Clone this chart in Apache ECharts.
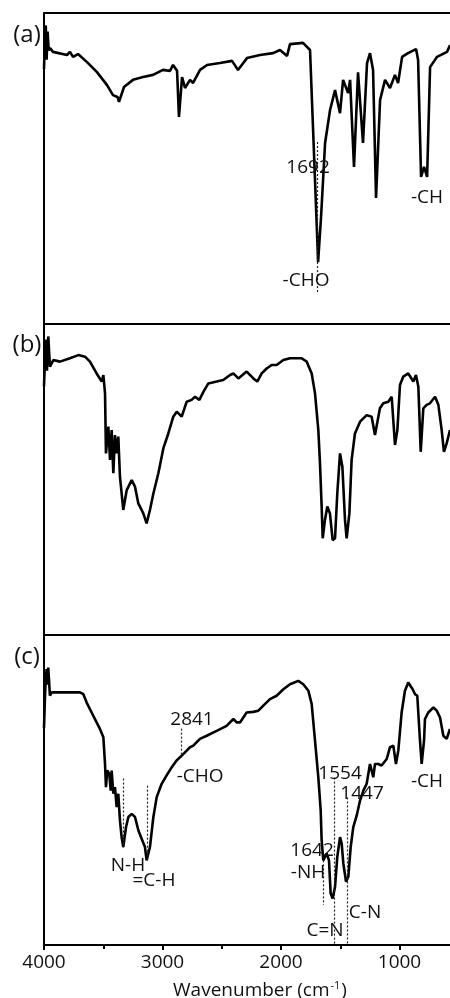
<!DOCTYPE html>
<html><head><meta charset="utf-8">
<script src="https://cdn.jsdelivr.net/npm/echarts@6/dist/echarts.min.js"></script>
<style>html,body{margin:0;padding:0;background:#fff}#c{width:450px;height:998px}</style>
</head><body><div id="c"></div>
<script>
// FTIR spectra: [wavenumber (cm-1), transmittance (%)]
var specA = [[4000,82],[3992,92],[3985,96],[3978,85],[3970,94],[3960,88],[3949,88.7],[3924,87.5],[3806,86.5],[3781,87.5],[3755,85.9],[3713,86.8],[3637,84.2],[3553,81.0],[3468,76.8],[3418,73.6],[3380,73.0],[3367,71.4],[3325,76.2],[3249,78.5],[3164,79.4],[3080,80.1],[2996,81.7],[2937,81.4],[2911,83.3],[2877,81.4],[2861,66.6],[2835,79.4],[2810,75.9],[2768,78.5],[2742,77.5],[2683,81.7],[2624,83.3],[2515,83.9],[2413,84.6],[2363,81.7],[2287,85.5],[2177,86.5],[2067,87.1],[2008,88.1],[1949,86.2],[1924,90.0],[1814,90.4],[1755,88.1],[1730,63.3],[1696,29.3],[1687,19.9],[1662,34.4],[1628,58.2],[1586,68.8],[1544,75.2],[1502,67.8],[1476,78.5],[1434,74.3],[1417,78.5],[1384,50.5],[1350,80.9],[1308,58.2],[1274,83.9],[1249,87.1],[1223,81.7],[1198,40.5],[1164,72.0],[1122,78.5],[1080,75.9],[1038,80.1],[1012,77.5],[978,85.9],[928,87.1],[860,88.4],[843,84.9],[818,47.3],[793,50.5],[767,47.3],[742,82.6],[683,85.9],[599,87.5],[573,89.7]];
var specB = [[4000,80],[3992,80],[3985,95],[3975,85],[3964,96],[3950,86.3],[3921,88.4],[3865,87.9],[3781,89.0],[3710,90.0],[3654,89.5],[3612,87.9],[3556,84.1],[3513,81.5],[3499,83.6],[3485,77.7],[3477,58.4],[3457,67.0],[3443,56.3],[3429,65.9],[3415,52.0],[3401,64.3],[3387,58.4],[3373,63.8],[3359,50.9],[3331,40.2],[3302,46.6],[3260,49.8],[3232,47.7],[3204,42.3],[3162,39.1],[3134,35.9],[3106,40.2],[3077,45.5],[3035,52.0],[2993,60.0],[2951,64.8],[2909,70.2],[2880,71.8],[2838,70.2],[2796,75.0],[2754,75.6],[2726,76.6],[2689,75.6],[2655,78.2],[2613,80.9],[2543,81.5],[2487,82.0],[2430,83.6],[2402,84.1],[2360,82.5],[2290,84.7],[2233,82.5],[2200,81.5],[2163,84.1],[2121,85.7],[2079,86.8],[2037,86.8],[1980,88.4],[1924,89.0],[1826,89.0],[1783,87.9],[1741,84.1],[1713,77.7],[1685,65.9],[1671,55.2],[1657,41.3],[1648,31.1],[1629,37.0],[1609,41.3],[1587,39.1],[1564,30.5],[1544,31.1],[1525,45.5],[1502,58.4],[1482,54.1],[1460,37.0],[1446,31.1],[1423,39.1],[1404,56.3],[1376,64.8],[1333,68.6],[1277,70.7],[1235,70.2],[1207,64.3],[1193,63.8],[1165,72.9],[1137,74.5],[1094,75.0],[1066,76.6],[1038,61.1],[1018,65.9],[996,80.4],[968,83.1],[926,84.1],[883,81.5],[861,83.6],[841,79.8],[821,58.9],[799,72.9],[771,74.0],[743,74.5],[700,76.6],[672,74.0],[644,65.9],[625,58.9],[602,61.6],[574,65.9]];
var specC = [[4000,70],[3992,79.8],[3985,86],[3978,89.0],[3970,84],[3964,89.5],[3950,80.4],[3935,81.5],[3907,81.5],[3809,81.5],[3696,81.5],[3668,80.9],[3640,78.2],[3598,75.0],[3556,71.8],[3528,69.7],[3499,67.0],[3485,58.4],[3477,50.9],[3466,56.3],[3449,55.2],[3437,49.8],[3429,56.3],[3415,48.8],[3401,50.9],[3387,44.5],[3373,48.8],[3359,40.2],[3345,34.8],[3331,31.6],[3308,38.0],[3288,41.3],[3260,42.3],[3232,41.3],[3204,37.0],[3176,34.3],[3148,31.6],[3134,27.3],[3106,31.6],[3077,41.3],[3049,47.7],[3007,52.0],[2965,54.7],[2923,57.3],[2881,59.5],[2838,61.1],[2796,62.7],[2768,63.8],[2740,64.3],[2684,66.5],[2627,67.5],[2543,69.1],[2459,70.7],[2402,72.9],[2374,71.8],[2346,71.8],[2290,75.0],[2234,75.2],[2191,75.6],[2149,77.2],[2093,79.3],[2037,80.4],[1980,82.5],[1924,84.1],[1854,85.2],[1812,84.1],[1769,82.0],[1741,77.7],[1713,65.9],[1685,54.1],[1665,43.4],[1657,33.8],[1643,27.3],[1629,28.4],[1615,29.5],[1595,27.3],[1581,16.6],[1564,15.0],[1544,18.8],[1525,28.4],[1502,34.8],[1488,32.7],[1474,26.3],[1451,20.4],[1432,22.0],[1412,31.6],[1390,38.0],[1361,41.8],[1333,46.6],[1305,49.8],[1277,52.0],[1249,58.4],[1221,54.1],[1207,58.4],[1179,58.4],[1151,57.9],[1108,60.0],[1080,63.8],[1052,64.3],[1030,58.4],[1010,62.7],[982,75.0],[954,82.0],[926,84.7],[889,82.5],[869,80.9],[850,80.4],[827,65.9],[813,58.4],[793,65.9],[785,72.9],[757,75.0],[714,76.6],[686,75.6],[658,73.4],[630,67.5],[602,66.5],[574,69.7]];

var xTicks = [4000, 3000, 2000, 1000];
var panelLabels = ['(a)', '(b)', '(c)'];
// annotation guide lines: [wavenumber, T from, T to]
var guidesA = [[1692, 58.5, 10]];
var guidesC = [[2841, 69.8, 60.5], [3333, 53.7, 31.5], [3131, 51.4, 27.3], [1645, 27.3, 12.9], [1554, 54.0, 0], [1443, 47.6, 0]];
// annotation texts: [text, wavenumber, T]
var notesA = [['1692', 1772, 50.2], ['-CHO', 1789, 14.1], ['-CH', 768, 40.8]];
var notesC = [['2841', 2751, 72.7], ['-CHO', 2683, 54.3], ['N-H', 3291, 25.7], ['=C-H', 3072, 20.9], ['1642', 1738, 30.5], ['-NH', 1772, 23.5], ['1554', 1502, 55.3], ['1447', 1316, 48.9], ['C-N', 1291, 10.6], ['C=N', 1628, 4.8], ['-CH', 768, 52.7]];

var FONT = '"Open Sans", "DejaVu Sans", sans-serif';
var TXT = '#111';
var grids = [
  {left: 44, width: 474, top: 13, height: 311, outerBoundsMode: 'none', containLabel: false},
  {left: 44, width: 474, top: 324, height: 311, outerBoundsMode: 'none', containLabel: false},
  {left: 44, width: 474, top: 635, height: 310, outerBoundsMode: 'none', containLabel: false}
];
var frameLine = {show: true, onZero: false, lineStyle: {color: '#000', width: 2}};
var xAxes = [], yAxes = [];
for (var i = 0; i < 3; i++) {
  xAxes.push({type: 'value', gridIndex: i, position: 'top', min: 0, max: 4000, interval: 1000, inverse: true,
    axisLine: frameLine, axisTick: {show: false}, axisLabel: {show: false}, splitLine: {show: false}});
  yAxes.push({type: 'value', gridIndex: i, position: 'left', min: 0, max: 100, axisLine: frameLine,
    axisTick: {show: false}, axisLabel: {show: false}, splitLine: {show: false}});
}
xAxes.push({type: 'value', gridIndex: 2, position: 'bottom', min: 0, max: 4000, interval: 1000, inverse: true,
  axisLine: frameLine,
  axisTick: {show: true, inside: false, length: 5, lineStyle: {color: '#000', width: 2}},
  minorTick: {show: true, splitNumber: 2, length: 4, lineStyle: {color: '#000', width: 2}},
  axisLabel: {show: true, margin: 8, fontSize: 19, color: TXT, fontFamily: FONT,
    formatter: function (v) { return xTicks.indexOf(v) >= 0 ? String(v) : ''; }},
  splitLine: {show: false}});

function guideLines(g) {
  return g.map(function (d) { return [{coord: [d[0], d[1]]}, {coord: [d[0], d[2]]}]; });
}
function notes(n) {
  return n.map(function (d) {
    return {coord: [d[1], d[2]], symbol: 'circle', symbolSize: 0,
      label: {show: true, position: 'inside', formatter: d[0], color: TXT, fontSize: 19, fontFamily: FONT}};
  });
}
function mkSeries(data, xi, yi, g, n) {
  var s = {type: 'line', xAxisIndex: xi, yAxisIndex: yi, data: data, showSymbol: false, symbol: 'none',
    lineStyle: {color: '#000', width: 2.6}, silent: true, z: 3};
  if (g) s.markLine = {silent: true, symbol: ['none', 'none'], label: {show: false},
    lineStyle: {color: '#222', width: 1.2, type: [2, 2]}, data: guideLines(g)};
  if (n) s.markPoint = {silent: true, data: notes(n)};
  return s;
}
var chart = echarts.init(document.getElementById('c'), null, {renderer: 'canvas'});
var labelY = [35, 345, 657];
chart.setOption({
  animation: false,
  backgroundColor: '#fff',
  grid: grids,
  xAxis: xAxes,
  yAxis: yAxes,
  series: [
    mkSeries(specA, 0, 0, guidesA, notesA),
    mkSeries(specB, 1, 1, null, null),
    mkSeries(specC, 2, 2, guidesC, notesC)
  ],
  graphic: panelLabels.map(function (t, k) {
    return {type: 'text', x: 27, y: labelY[k], style: {text: t, fontSize: 24, fill: TXT, fontFamily: FONT,
      align: 'center', verticalAlign: 'middle'}};
  }).concat([
    {type: 'text', x: 260, y: 991, style: {
      text: '{a|Wavenumber (cm}{s|-1}{a|)}', align: 'center', verticalAlign: 'middle', fill: TXT,
      rich: {a: {fontSize: 19, fontFamily: FONT, fill: TXT, lineHeight: 22},
             s: {fontSize: 11, fontFamily: FONT, fill: TXT, verticalAlign: 'top', lineHeight: 22, padding: [0, 1, 8, 1]}}}}
  ])
});
</script></body></html>
